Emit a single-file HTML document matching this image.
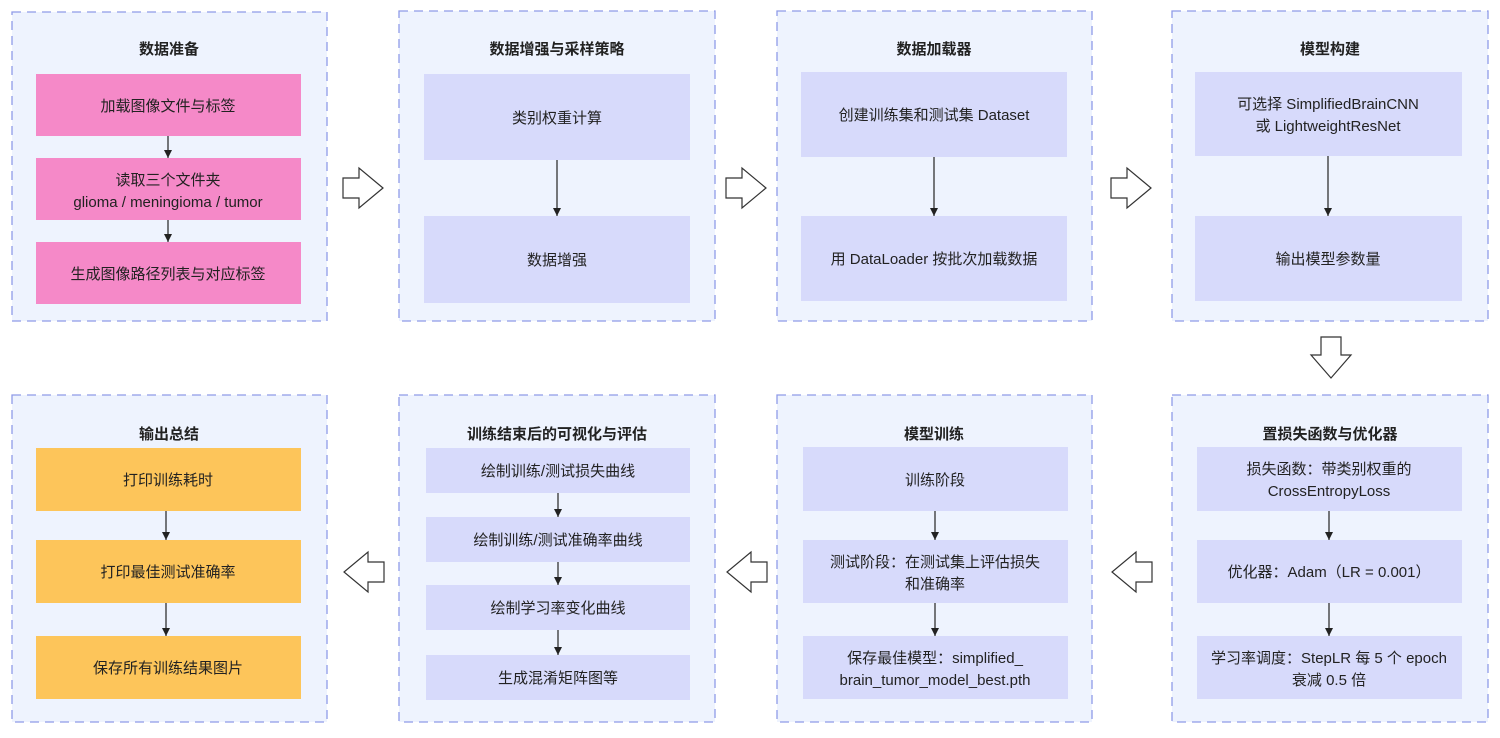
<!DOCTYPE html>
<html><head><meta charset="utf-8"><style>
html,body{margin:0;padding:0;background:#fff;}
svg text{font-family:"Liberation Sans","Noto Sans CJK SC",sans-serif;fill:#222;}
.t{font-weight:bold;font-size:15px;}
.n{font-size:15px;}
</style></head><body>
<svg width="1500" height="733" viewBox="0 0 1500 733" xmlns="http://www.w3.org/2000/svg">
<defs><marker id="ah" markerWidth="8" markerHeight="8" refX="8" refY="4" orient="auto" markerUnits="userSpaceOnUse"><path d="M0,0 L8,4 L0,8 z" fill="#222"/></marker></defs>
<g fill="#eef3fe" stroke="#8f9be8" stroke-width="1.3" stroke-dasharray="9,6">
<rect x="12" y="12" width="315" height="309"/>
<rect x="399" y="11" width="316" height="310"/>
<rect x="777" y="11" width="315" height="310"/>
<rect x="1172" y="11" width="316" height="310"/>
<rect x="12" y="395" width="315" height="327"/>
<rect x="399" y="395" width="316" height="327"/>
<rect x="777" y="395" width="315" height="327"/>
<rect x="1172" y="395" width="316" height="327"/>
</g>
<g text-anchor="middle" class="t">
<text x="169" y="54" class="t">数据准备</text>
<text x="557" y="54" class="t">数据增强与采样策略</text>
<text x="934" y="54" class="t">数据加载器</text>
<text x="1330" y="54" class="t">模型构建</text>
<text x="169" y="439" class="t">输出总结</text>
<text x="557" y="439" class="t">训练结束后的可视化与评估</text>
<text x="934" y="439" class="t">模型训练</text>
<text x="1330" y="439" class="t">置损失函数与优化器</text>
</g>
<g fill="#f589c8">
<rect x="36" y="74" width="265" height="62"/><rect x="36" y="158" width="265" height="62"/><rect x="36" y="242" width="265" height="62"/>
</g>
<g fill="#fdc55a">
<rect x="36" y="448" width="265" height="63"/><rect x="36" y="540" width="265" height="63"/><rect x="36" y="636" width="265" height="63"/>
</g>
<g fill="#d7dafb">
<rect x="424" y="74" width="266" height="86"/><rect x="424" y="216" width="266" height="87"/>
<rect x="801" y="72" width="266" height="85"/><rect x="801" y="216" width="266" height="85"/>
<rect x="1195" y="72" width="267" height="84"/><rect x="1195" y="216" width="267" height="85"/>
<rect x="426" y="448" width="264" height="45"/><rect x="426" y="517" width="264" height="45"/><rect x="426" y="585" width="264" height="45"/><rect x="426" y="655" width="264" height="45"/>
<rect x="803" y="447" width="265" height="64"/><rect x="803" y="540" width="265" height="63"/><rect x="803" y="636" width="265" height="63"/>
<rect x="1197" y="447" width="265" height="64"/><rect x="1197" y="540" width="265" height="63"/><rect x="1197" y="636" width="265" height="63"/>
</g>
<g stroke="#222" stroke-width="1.2" marker-end="url(#ah)">
<line x1="168" y1="136" x2="168" y2="158"/><line x1="168" y1="220" x2="168" y2="242"/>
<line x1="557" y1="160" x2="557" y2="216"/>
<line x1="934" y1="157" x2="934" y2="216"/>
<line x1="1328" y1="156" x2="1328" y2="216"/>
<line x1="166" y1="511" x2="166" y2="540"/><line x1="166" y1="603" x2="166" y2="636"/>
<line x1="558" y1="493" x2="558" y2="517"/><line x1="558" y1="562" x2="558" y2="585"/><line x1="558" y1="630" x2="558" y2="655"/>
<line x1="935" y1="511" x2="935" y2="540"/><line x1="935" y1="603" x2="935" y2="636"/>
<line x1="1329" y1="511" x2="1329" y2="540"/><line x1="1329" y1="603" x2="1329" y2="636"/>
</g>
<g fill="#fff" stroke="#333" stroke-width="1.2">
<path d="M343,178 h16 v-10 l24,20 l-24,20 v-10 h-16 z"/>
<path d="M726,178 h16 v-10 l24,20 l-24,20 v-10 h-16 z"/>
<path d="M1111,178 h16 v-10 l24,20 l-24,20 v-10 h-16 z"/>
<path d="M1321,337 h20 v18 h10 l-20,23 l-20,-23 h10 z"/>
<path d="M1152,562 h-16 v-10 l-24,20 l24,20 v-10 h16 z"/>
<path d="M767,562 h-16 v-10 l-24,20 l24,20 v-10 h16 z"/>
<path d="M384,562 h-16 v-10 l-24,20 l24,20 v-10 h16 z"/>
</g>
<g text-anchor="middle" class="n">
<text x="168" y="111" class="n">加载图像文件与标签</text>
<text x="168" y="185" class="n">读取三个文件夹</text>
<text x="168" y="207" class="n">glioma / meningioma / tumor</text>
<text x="168" y="279" class="n">生成图像路径列表与对应标签</text>
<text x="557" y="123" class="n">类别权重计算</text>
<text x="557" y="265" class="n">数据增强</text>
<text x="934" y="120" class="n">创建训练集和测试集 Dataset</text>
<text x="934" y="264" class="n">用 DataLoader 按批次加载数据</text>
<text x="1328" y="109" class="n">可选择 SimplifiedBrainCNN</text>
<text x="1328" y="131" class="n">或 LightweightResNet</text>
<text x="1328" y="264" class="n">输出模型参数量</text>
<text x="168" y="485" class="n">打印训练耗时</text>
<text x="168" y="577" class="n">打印最佳测试准确率</text>
<text x="168" y="673" class="n">保存所有训练结果图片</text>
<text x="558" y="476" class="n">绘制训练/测试损失曲线</text>
<text x="558" y="545" class="n">绘制训练/测试准确率曲线</text>
<text x="558" y="613" class="n">绘制学习率变化曲线</text>
<text x="558" y="683" class="n">生成混淆矩阵图等</text>
<text x="935" y="485" class="n">训练阶段</text>
<text x="935" y="567" class="n">测试阶段：在测试集上评估损失</text>
<text x="935" y="589" class="n">和准确率</text>
<text x="935" y="663" class="n">保存最佳模型：simplified_</text>
<text x="935" y="685" class="n">brain_tumor_model_best.pth</text>
<text x="1329" y="474" class="n">损失函数：带类别权重的</text>
<text x="1329" y="496" class="n">CrossEntropyLoss</text>
<text x="1329" y="577" class="n">优化器：Adam（LR = 0.001）</text>
<text x="1329" y="663" class="n">学习率调度：StepLR 每 5 个 epoch</text>
<text x="1329" y="685" class="n">衰减 0.5 倍</text>
</g>
</svg>
</body></html>
